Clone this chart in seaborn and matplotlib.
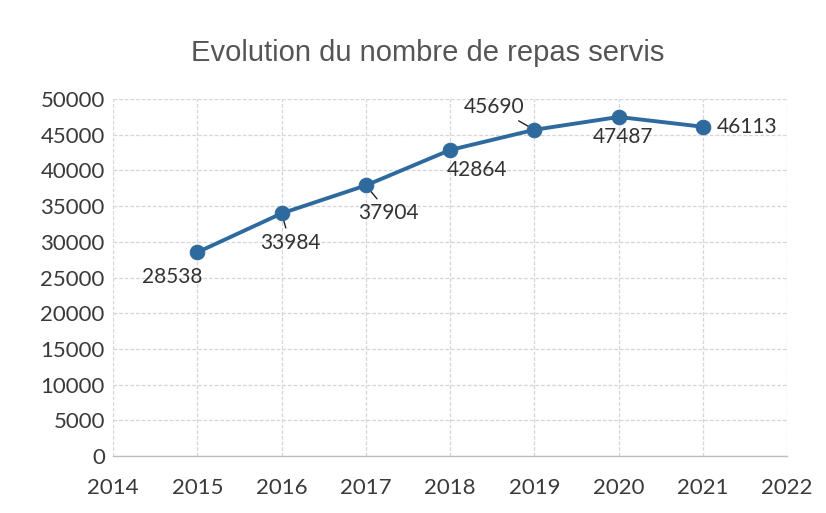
import matplotlib
matplotlib.use("Agg")
import matplotlib.pyplot as plt
import seaborn as sns
import pandas as pd

years = [2015, 2016, 2017, 2018, 2019, 2020, 2021]
repas = [28538, 33984, 37904, 42864, 45690, 47487, 46113]
x_ticks = [2014, 2015, 2016, 2017, 2018, 2019, 2020, 2021, 2022]
y_ticks = [0, 5000, 10000, 15000, 20000, 25000, 30000, 35000, 40000, 45000, 50000]
title = "Evolution du nombre de repas servis"

df = pd.DataFrame({"annee": years, "repas": repas})

sns.set_theme(style="whitegrid")
plt.rcParams['font.family'] = ['Lato', 'DejaVu Sans']

fig = plt.figure(figsize=(8.26, 5.13), dpi=100)
ax = fig.add_axes([0.137, 0.111, 0.816, 0.696])

line_color = "#2f6a9e"
sns.lineplot(data=df, x="annee", y="repas", ax=ax, color=line_color, lw=2.8,
             marker="o", markersize=10.5, markeredgecolor=line_color,
             markerfacecolor=line_color, zorder=5)

ax.set_xlim(2014, 2022)
ax.set_ylim(0, 50000)
ax.set_xticks(x_ticks)
ax.set_yticks(y_ticks)
ax.set_xticklabels([str(t) for t in x_ticks])
ax.set_yticklabels([str(t) for t in y_ticks])
ax.tick_params(axis="both", labelsize=16, labelcolor="#3a3a3a", length=0)
ax.tick_params(axis="y", pad=6)
ax.tick_params(axis="x", pad=16)
ax.set_xlabel("")
ax.set_ylabel("")
ax.grid(True, color="#d6d6d6", lw=0.9, ls=(0, (3, 1.5)))
for s in ax.spines.values():
    s.set_visible(False)
ax.spines["bottom"].set_visible(True)
ax.spines["bottom"].set_color("#bdbdbd")
ax.spines["bottom"].set_linewidth(1.0)

# label offsets in points (layout only)
offsets = [(-18, -18), (6, -21), (16.5, -20), (19.5, -14.5), (-29, 16.5), (3, -14.5), (32, 0)]
leaders = [False, True, True, False, True, False, False]
for xv, yv, off, lead in zip(years, repas, offsets, leaders):
    kw = {}
    if lead:
        kw["arrowprops"] = dict(arrowstyle="-", color="#222222", lw=1.0,
                                shrinkA=1, shrinkB=1)
    ax.annotate(str(yv), xy=(xv, yv), xytext=off, textcoords="offset points",
                ha="center", va="center", fontsize=15, color="#333333", **kw)

fig.text(0.518, 0.896, title, ha="center", va="center", fontsize=21,
         color="#555555", family=["Liberation Sans", "DejaVu Sans"])

fig.savefig("out.png", dpi=100, facecolor="white")
